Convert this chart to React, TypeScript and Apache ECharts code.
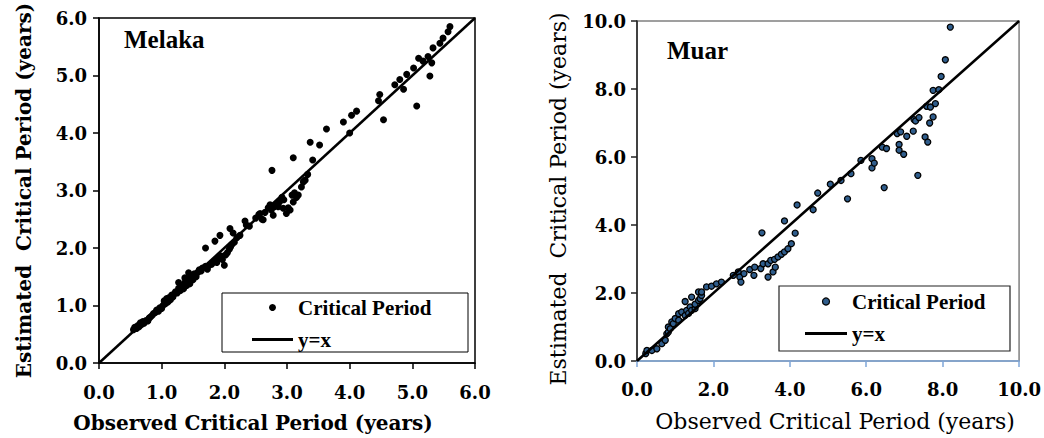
import React, { useEffect, useRef } from "react";
import * as echarts from "echarts";

// Melaka: observed vs estimated critical period (years)
const melakaObs = [
  0.55, 0.57, 0.6, 0.62, 0.64, 0.66, 0.68, 0.7, 0.72, 0.75, 0.78, 0.8, 0.82, 0.85, 0.87, 0.9, 0.92, 0.95, 0.97, 1.0,
  1.02, 1.04, 1.06, 1.08, 1.1, 1.12, 1.14, 1.16, 1.18, 1.2, 1.22, 1.25, 1.27, 1.27, 1.3, 1.32, 1.35, 1.37, 1.37, 1.4,
  1.42, 1.43, 1.45, 1.47, 1.5, 1.52, 1.55, 1.58, 1.6, 1.63, 1.65, 1.7, 1.7, 1.73, 1.76, 1.8, 1.85, 1.85, 1.88, 1.9,
  1.93, 1.95, 1.97, 2.0, 2.02, 2.05, 2.08, 2.09, 2.1, 2.12, 2.14, 2.16, 2.2, 2.25, 2.33, 2.35, 2.4, 2.5, 2.55, 2.57,
  2.6, 2.62, 2.65, 2.7, 2.73, 2.75, 2.76, 2.78, 2.8, 2.83, 2.86, 2.88, 2.92, 2.94, 2.95, 2.99, 3.02, 3.05, 3.08, 3.1,
  3.1, 3.12, 3.15, 3.18, 3.23, 3.26, 3.29, 3.33, 3.37, 3.41, 3.52, 3.63, 3.9, 4.0, 4.03, 4.11, 4.46, 4.48, 4.54, 4.72,
  4.8, 4.86, 4.91, 5.02, 5.07, 5.1, 5.17, 5.25, 5.28, 5.31, 5.33, 5.44, 5.49, 5.57, 5.6,
];
const melakaEst = [
  0.58, 0.62, 0.6, 0.65, 0.63, 0.7, 0.67, 0.72, 0.69, 0.74, 0.73, 0.78, 0.8, 0.83, 0.86, 0.88, 0.92, 0.9, 0.96, 0.95,
  1.0, 1.08, 1.03, 1.12, 1.06, 1.14, 1.1, 1.18, 1.15, 1.2, 1.24, 1.22, 1.3, 1.4, 1.26, 1.33, 1.29, 1.4, 1.48, 1.35,
  1.44, 1.57, 1.38, 1.5, 1.45, 1.55, 1.5, 1.58, 1.62, 1.6, 1.65, 1.68, 2.0, 1.63, 1.7, 1.72, 1.78, 2.12, 1.75, 1.82,
  2.22, 1.86, 1.8, 1.7, 1.88, 1.92, 1.98, 2.34, 2.02, 2.06, 2.26, 2.1, 2.18, 2.22, 2.47, 2.4, 2.38, 2.52, 2.58, 2.6,
  2.5, 2.49, 2.62, 2.7, 2.75, 2.66, 3.35, 2.57, 2.72, 2.76, 2.72, 2.8, 2.88, 2.69, 2.84, 2.6, 2.7, 2.66, 2.92, 3.57,
  2.8, 2.96, 2.88, 2.92, 3.06, 3.15, 3.18, 3.28, 3.84, 3.53, 3.79, 4.07, 4.19, 4.0, 4.31, 4.38, 4.56, 4.67, 4.23, 4.84,
  4.93, 4.76, 5.02, 5.13, 4.47, 5.3, 5.25, 5.33, 4.99, 5.22, 5.48, 5.56, 5.65, 5.76, 5.85,
];

// Muar: observed vs estimated critical period (years)
const muarObs = [
  0.23, 0.26, 0.39, 0.52, 0.65, 0.74, 0.78, 0.82, 0.82, 0.87, 0.91, 0.95, 1.0, 1.09, 1.09, 1.17, 1.26, 1.26, 1.3, 1.35,
  1.39, 1.43, 1.43, 1.52, 1.52, 1.61, 1.61, 1.65, 1.69, 1.69, 1.82, 1.95, 2.08, 2.21, 2.52, 2.65, 2.69, 2.72, 2.8, 2.95,
  3.06, 3.08, 3.24, 3.27, 3.3, 3.43, 3.43, 3.5, 3.56, 3.6, 3.62, 3.69, 3.78, 3.86, 3.86, 3.95, 4.04, 4.14, 4.19, 4.61,
  4.73, 5.06, 5.34, 5.51, 5.6, 5.86, 6.15, 6.15, 6.21, 6.42, 6.47, 6.53, 6.81, 6.86, 6.86, 6.9, 6.98, 7.06, 7.23, 7.25,
  7.29, 7.35, 7.38, 7.54, 7.58, 7.61, 7.66, 7.68, 7.75, 7.75, 7.81, 7.9, 7.96, 8.07, 8.2,
];
const muarEst = [
  0.22, 0.31, 0.31, 0.36, 0.51, 0.61, 0.8, 0.85, 1.0, 0.95, 1.15, 1.1, 1.25, 1.2, 1.39, 1.44, 1.34, 1.75, 1.49, 1.4,
  1.59, 1.49, 1.88, 1.54, 1.67, 1.78, 2.03, 1.83, 1.93, 2.03, 2.18, 2.2, 2.27, 2.32, 2.52, 2.62, 2.47, 2.32, 2.57, 2.69,
  2.52, 2.76, 2.72, 3.77, 2.86, 2.86, 2.47, 2.96, 2.62, 2.99, 2.76, 3.06, 3.14, 3.21, 4.12, 3.3, 3.45, 3.76, 4.59, 4.45,
  4.94, 5.2, 5.31, 4.77, 5.51, 5.9, 5.68, 5.95, 5.82, 6.29, 5.1, 6.25, 6.69, 6.37, 6.2, 6.74, 6.08, 6.61, 6.76, 7.1,
  7.06, 5.46, 7.16, 6.59, 7.49, 6.44, 7.0, 7.47, 7.96, 7.18, 7.57, 7.98, 8.37, 8.86, 9.82,
];

const melakaLine = [0, 6];
const muarLine = [0, 10];

const pairs = (xs: number[], ys: number[]) => xs.map((x, i) => [x, ys[i]]);

export default function App() {
  const ref = useRef<HTMLDivElement>(null);
  useEffect(() => {
    document.body.style.margin = "0";
    const chart = echarts.init(ref.current!, null, { renderer: "svg" });
    const serif = "DejaVu Serif";
    const times = "Liberation Serif";
    const tickLabel = (v: number) => v.toFixed(1);
    const axisLabelStyle = {
      fontFamily: serif,
      fontWeight: "bold" as const,
      fontSize: 18,
      color: "#000",
      formatter: tickLabel,
    };
    const lineIcon = "path://M0 0H41V3H0Z";
    chart.setOption({
      animation: false,
      backgroundColor: "#fff",
      title: [
        {
          text: "Melaka",
          left: 119,
          top: 22,
          textStyle: { fontFamily: times, fontWeight: "bold", fontSize: 25, color: "#000" },
        },
        {
          text: "Muar",
          left: 662,
          top: 33,
          textStyle: { fontFamily: times, fontWeight: "bold", fontSize: 25, color: "#000" },
        },
      ],
      grid: [
        { left: 99, top: 18, width: 376, height: 348, show: true, borderColor: "#000", borderWidth: 1.5, backgroundColor: "transparent" },
        { left: 637, top: 21, width: 384, height: 340, show: true, borderColor: "#808080", borderWidth: 1.5, backgroundColor: "transparent" },
      ],
      xAxis: [
        {
          gridIndex: 0,
          type: "value",
          min: 0,
          max: 6,
          interval: 1,
          name: "Observed Critical Period (years)",
          nameLocation: "middle",
          nameGap: 50,
          nameTextStyle: { fontFamily: serif, fontWeight: "bold", fontSize: 20, color: "#000", padding: [0, 68, 0, 0] },
          axisLine: { show: true, lineStyle: { color: "#000", width: 1.5 } },
          axisTick: { show: true, inside: false, length: 6, lineStyle: { color: "#000", width: 1.5 } },
          axisLabel: { ...axisLabelStyle, margin: 20 },
          splitLine: { show: false },
        },
        {
          gridIndex: 1,
          type: "value",
          min: 0,
          max: 10,
          interval: 2,
          name: "Observed Critical Period (years)",
          nameLocation: "middle",
          nameGap: 49,
          nameTextStyle: { fontFamily: serif, fontWeight: "normal", fontSize: 22, color: "#000", padding: [0, 0, 0, 14] },
          axisLine: { show: true, lineStyle: { color: "#7ea6d8", width: 1.5 } },
          axisTick: { show: true, inside: false, length: 6, lineStyle: { color: "#7ea6d8", width: 1.5 } },
          axisLabel: { ...axisLabelStyle, margin: 19 },
          splitLine: { show: false },
        },
      ],
      yAxis: [
        {
          gridIndex: 0,
          type: "value",
          min: 0,
          max: 6,
          interval: 1,
          name: "Estimated  Critical Period (years)",
          nameLocation: "middle",
          nameGap: 65,
          nameTextStyle: { fontFamily: serif, fontWeight: "bold", fontSize: 20, color: "#000" },
          axisLine: { show: true, lineStyle: { color: "#000", width: 1.5 } },
          axisTick: { show: true, inside: false, length: 6, lineStyle: { color: "#000", width: 1.5 } },
          axisLabel: { ...axisLabelStyle, margin: 12 },
          splitLine: { show: false },
        },
        {
          gridIndex: 1,
          type: "value",
          min: 0,
          max: 10,
          interval: 2,
          name: "Estimated  Critical Period (years)",
          nameLocation: "middle",
          nameGap: 68,
          nameTextStyle: { fontFamily: serif, fontWeight: "normal", fontSize: 22, color: "#000", padding: [0, 16, 0, 0] },
          axisLine: { show: true, lineStyle: { color: "#222", width: 1.5 } },
          axisTick: { show: true, inside: false, length: 6, lineStyle: { color: "#222", width: 1.5 } },
          axisLabel: { ...axisLabelStyle, margin: 11 },
          splitLine: { show: false },
        },
      ],
      legend: [
        {
          left: 252,
          top: 297,
          orient: "vertical",
          itemWidth: 41,
          itemHeight: 7,
          itemGap: 11,
          padding: 0,
          textStyle: { fontFamily: times, fontWeight: "bold", fontSize: 21, color: "#000" },
          data: [
            { name: "Critical Period", icon: "circle", itemStyle: { color: "#000", borderWidth: 0 } },
            { name: "y=x", icon: lineIcon, itemStyle: { color: "#000", borderWidth: 0 } },
          ],
        },
        {
          left: 805,
          top: 291,
          orient: "vertical",
          itemWidth: 42,
          itemHeight: 7,
          itemGap: 11,
          padding: 0,
          textStyle: { fontFamily: times, fontWeight: "bold", fontSize: 21, color: "#000" },
          data: [
            { name: "Critical Period", icon: "circle", itemStyle: { color: "#2f5d8c", borderColor: "#000", borderWidth: 1.2 } },
            { name: "y=x", icon: lineIcon, itemStyle: { color: "#000", borderWidth: 0 } },
          ],
        },
      ],
      graphic: [
        { type: "rect", shape: { x: 222, y: 293, width: 246, height: 59 }, style: { fill: "none", stroke: "#000", lineWidth: 1 }, z: 10 },
        { type: "rect", shape: { x: 779, y: 286, width: 231, height: 65 }, style: { fill: "none", stroke: "#222", lineWidth: 1.2 }, z: 10 },
      ],
      series: [
        {
          name: "y=x",
          type: "line",
          xAxisIndex: 0,
          yAxisIndex: 0,
          data: pairs(melakaLine, melakaLine),
          showSymbol: false,
          symbol: "none",
          itemStyle: { color: "#000" },
          lineStyle: { color: "#000", width: 2.5 },
          z: 3,
        },
        {
          name: "Critical Period",
          type: "scatter",
          xAxisIndex: 0,
          yAxisIndex: 0,
          data: pairs(melakaObs, melakaEst),
          symbol: "circle",
          symbolSize: 7,
          itemStyle: { color: "#000", opacity: 1 },
          z: 2,
        },
        {
          name: "y=x",
          type: "line",
          xAxisIndex: 1,
          yAxisIndex: 1,
          data: pairs(muarLine, muarLine),
          showSymbol: false,
          symbol: "none",
          itemStyle: { color: "#000" },
          lineStyle: { color: "#000", width: 2.5 },
          z: 3,
        },
        {
          name: "Critical Period",
          type: "scatter",
          xAxisIndex: 1,
          yAxisIndex: 1,
          data: pairs(muarObs, muarEst),
          symbol: "circle",
          symbolSize: 6,
          itemStyle: { color: "#2f5d8c", borderColor: "#000", borderWidth: 1.3, opacity: 1 },
          z: 2,
        },
      ],
    });
    return () => chart.dispose();
  }, []);
  return <div ref={ref} style={{ width: 1044, height: 438 }} />;
}
